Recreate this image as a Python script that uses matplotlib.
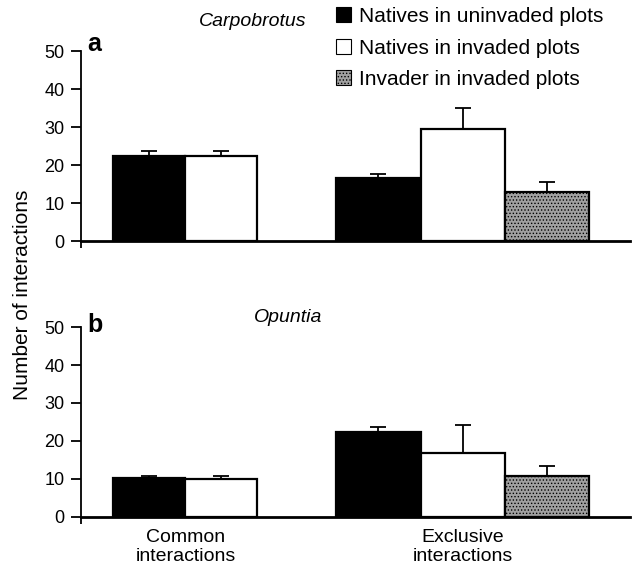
import matplotlib
matplotlib.use('Agg')
import matplotlib.pyplot as plt
from matplotlib.patches import Patch

plt.rcParams['font.family'] = ['Liberation Sans', 'DejaVu Sans']
plt.rcParams['hatch.linewidth'] = 0.6

groups = ['Common\ninteractions', 'Exclusive\ninteractions']
series = ['Natives in uninvaded plots', 'Natives in invaded plots', 'Invader in invaded plots']

# panel a: Carpobrotus
carpo_common = [22.5, 22.5]
carpo_common_err = [1.1, 1.1]
carpo_excl = [16.5, 29.5, 13.0]
carpo_excl_err = [1.1, 5.6, 2.5]

# panel b: Opuntia
opun_common = [10.2, 10.1]
opun_common_err = [0.7, 0.7]
opun_excl = [22.3, 16.9, 10.9]
opun_excl_err = [1.3, 7.4, 2.6]

colors = ['black', 'white', '#a0a0a0']
hatches = [None, None, '.....']


def draw_group(ax, center, width, values, errs):
	n = len(values)
	start = center - width * n / 2.0 + width / 2.0
	i = 0
	while (i < n):
		x = start + i * width
		ax.bar(x, values[i], width=width, color=colors[i], edgecolor='black',
			linewidth=1.6, hatch=hatches[i], zorder=2)
		ax.errorbar(x, values[i], yerr=[[0], [errs[i]]], fmt='none', ecolor='black',
			elinewidth=1.3, capsize=6, capthick=1.3, zorder=1)
		i += 1


def style_axis(ax, show_labels):
	ax.set_xlim(0, 7.625)
	ax.set_ylim(0, 50)
	ax.set_yticks([0, 10, 20, 30, 40, 50])
	ax.spines['top'].set_visible(False)
	ax.spines['right'].set_visible(False)
	ax.spines['left'].set_linewidth(1.3)
	ax.spines['bottom'].set_linewidth(2.0)
	ax.tick_params(axis='y', direction='out', length=7, width=1.3, labelsize=13, pad=5)
	ax.set_xticks([0], minor=True)
	ax.tick_params(axis='x', which='minor', direction='out', length=5, width=1.3)
	ax.set_xticks([1.45, 5.3])
	ax.tick_params(axis='x', which='major', length=0, labelsize=14, pad=9)
	if show_labels:
		ax.set_xticklabels(groups, linespacing=1.15)
	else:
		ax.set_xticklabels(['', ''])


def main():
	fig = plt.figure(figsize=(6.35, 5.69), dpi=100)
	ax1 = fig.add_axes([0.1276, 0.5764, 0.8646, 0.3339])
	ax2 = fig.add_axes([0.1276, 0.0914, 0.8646, 0.3339])

	draw_group(ax1, 1.45, 1.0, carpo_common, carpo_common_err)
	draw_group(ax1, 5.3, 1.17, carpo_excl, carpo_excl_err)
	draw_group(ax2, 1.45, 1.0, opun_common, opun_common_err)
	draw_group(ax2, 5.3, 1.17, opun_excl, opun_excl_err)

	style_axis(ax1, False)
	style_axis(ax2, True)

	ax1.text(0.012, 1.035, 'a', transform=ax1.transAxes, fontsize=18, fontweight='bold', va='center')
	ax2.text(0.012, 1.01, 'b', transform=ax2.transAxes, fontsize=18, fontweight='bold', va='center')
	fig.text(253 / 635.0, 1 - 22 / 569.0, 'Carpobrotus', style='italic', fontsize=14, ha='center', va='center')
	fig.text(288 / 635.0, 1 - 317 / 569.0, 'Opuntia', style='italic', fontsize=14, ha='center', va='center')
	fig.text(23 / 635.0, 1 - 295 / 569.0, 'Number of interactions', rotation=90, fontsize=15, ha='center', va='center')

	handles = []
	i = 0
	while (i < len(series)):
		handles.append(Patch(facecolor=colors[i], edgecolor='black', linewidth=0.8, hatch=hatches[i], label=series[i]))
		i += 1
	fig.legend(handles=handles, loc='upper left', bbox_to_anchor=(336 / 635.0, 1 - 7 / 569.0),
		frameon=False, fontsize=15, handlelength=0.72, handleheight=0.72, handletextpad=0.4,
		labelspacing=0.6, borderpad=0, borderaxespad=0)

	fig.savefig('out.png', dpi=100)


if __name__ == '__main__':
	main()
